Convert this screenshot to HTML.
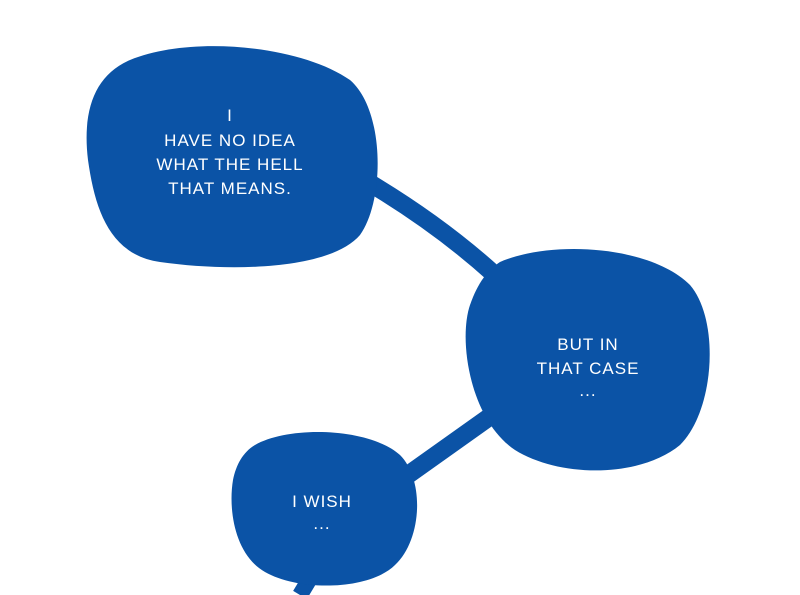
<!DOCTYPE html>
<html><head><style>
html,body{margin:0;padding:0;background:#fff;}
svg{display:block;}
text{font-family:"Liberation Sans",sans-serif;font-size:17px;fill:#fff;text-anchor:middle;letter-spacing:1px;}
</style></head><body>
<svg width="800" height="595" viewBox="0 0 800 595" xmlns="http://www.w3.org/2000/svg">
<g fill="#0b53a6" stroke="#0b53a6">
<path d="M368,182 Q440,225 495,275" stroke-width="18" fill="none"/>
<path d="M488,418 L398,482" stroke-width="18" fill="none"/>
<path d="M312,575 L300,595" stroke-width="16" fill="none"/>
<path stroke="none" d="M130,60 C190,35 300,45 350,80 C385,110 385,200 360,235 C330,270 230,272 160,262 C110,255 95,210 88,160 C82,110 95,75 130,60 Z"/>
<path stroke="none" d="M500,262 C550,240 650,245 690,285 C720,320 715,410 680,445 C640,478 560,478 515,450 C470,420 458,340 470,305 C478,282 488,270 500,262 Z"/>
<path stroke="none" d="M255,445 C290,425 370,428 400,455 C425,480 422,540 395,565 C370,590 300,592 265,572 C235,555 228,510 233,480 C236,465 243,452 255,445 Z"/>
</g>
<text x="230" y="121">I</text>
<text x="230" y="146">HAVE NO IDEA</text>
<text x="230" y="170">WHAT THE HELL</text>
<text x="230" y="194">THAT MEANS.</text>
<text x="588" y="350">BUT IN</text>
<text x="588" y="374">THAT CASE</text>
<text x="588" y="396">...</text>
<text x="322" y="507">I WISH</text>
<text x="322" y="529">...</text>
</svg>
</body></html>
